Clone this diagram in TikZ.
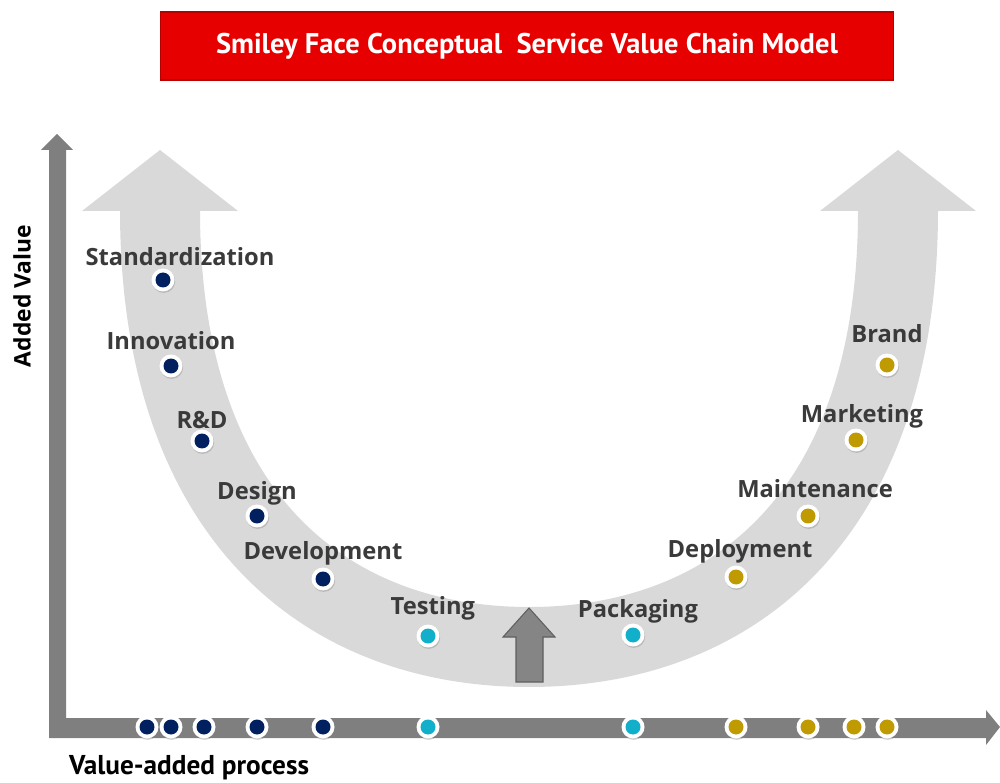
\documentclass[tikz,border=0pt]{standalone}
\usepackage{fontspec}
\setmainfont{Open Sans}
\newfontfamily\narrowfont{PT Sans}
\usetikzlibrary{positioning,shadows}

\definecolor{titlered}{HTML}{E60000}
\definecolor{titleedge}{HTML}{B80000}
\definecolor{bandgray}{HTML}{D9D9D9}
\definecolor{axisgray}{HTML}{7F7F7F}
\definecolor{labelgray}{HTML}{3A3A3A}
\definecolor{dotnavy}{HTML}{002060}
\definecolor{dotcyan}{HTML}{12AFCB}
\definecolor{dotgold}{HTML}{BF9A00}

\tikzset{
  stagedot/.style={circle, fill=white, inner sep=0pt, minimum size=0.46cm,
    drop shadow={shadow xshift=0.4pt, shadow yshift=-0.8pt, opacity=0.35},
    path picture={\fill[#1] (path picture bounding box.center) circle (0.15cm);}},
  stagelabel/.style={font=\bfseries\fontsize{13.5}{16}\selectfont, text=labelgray,
    inner sep=0pt, text depth=0pt},
  bandline/.style={draw=bandgray, line width=1.6cm},
}

\begin{document}
\begin{tikzpicture}[x=0.02cm, y=-0.02cm]
  \useasboundingbox (0,0) rectangle (1000,783);
  % Smile band
  \draw[bandline] (160,210) .. controls (160,520) and (329,647) .. (529,647)
    .. controls (729,647) and (898,520) .. (898,210);
  \fill[bandgray] (82,211) -- (160,150) -- (238,211) -- cycle;
  \fill[bandgray] (820,211) -- (898,150) -- (976,211) -- cycle;
  % Small arrow
  \filldraw[fill=axisgray!95!white, draw=axisgray!75!black, line width=0.6pt]
    (516,682) -- (516,637) -- (503,637) -- (529,608) -- (555,637) -- (543,637) -- (543,682) -- cycle;
  % Axes
  \fill[axisgray] (49,738) -- (49,150) -- (41,150) -- (57,134) -- (73,150) -- (66,150)
    -- (66,718) -- (986,718) -- (986,710) -- (1000,727) -- (986,745) -- (986,738) -- cycle;
  % Nodes on the curve
  \node (std)   [stagedot=dotnavy] at (163,280) {};
  \node (inn)   [stagedot=dotnavy] at (171,366) {};
  \node (rnd)   [stagedot=dotnavy] at (202,441) {};
  \node (des)   [stagedot=dotnavy] at (257,516) {};
  \node (dev)   [stagedot=dotnavy] at (323,579) {};
  \node (test)  [stagedot=dotcyan] at (428,636) {};
  \node (pack)  [stagedot=dotcyan] at (633,635) {};
  \node (depl)  [stagedot=dotgold] at (736,577) {};
  \node (maint) [stagedot=dotgold] at (808,516) {};
  \node (mark)  [stagedot=dotgold] at (856,440) {};
  \node (brand) [stagedot=dotgold] at (887,365) {};
  % Nodes on the axis
  \node (stdx)   [stagedot=dotnavy] at (147,727) {};
  \node (innx)   [stagedot=dotnavy] at (171,727) {};
  \node (rndx)   [stagedot=dotnavy] at (204,727) {};
  \node (desx)   [stagedot=dotnavy] at (257,727) {};
  \node (devx)   [stagedot=dotnavy] at (323,727) {};
  \node (testx)  [stagedot=dotcyan] at (428,727) {};
  \node (packx)  [stagedot=dotcyan] at (633,727) {};
  \node (deplx)  [stagedot=dotgold] at (736,727) {};
  \node (maintx) [stagedot=dotgold] at (808,727) {};
  \node (markx)  [stagedot=dotgold] at (854,727) {};
  \node (brandx) [stagedot=dotgold] at (887,727) {};
  % Labels
  \node (stdlab)   [stagelabel, above=1.4pt of std, xshift=9.7pt] {Standardization};
  \node (innlab)   [stagelabel, above=2.6pt of inn] {Innovation};
  \node (rndlab)   [stagelabel, above=0pt of rnd] {R\&D};
  \node (deslab)   [stagelabel, above=2.6pt of des] {Design};
  \node (devlab)   [stagelabel, above=4.3pt of dev] {Development};
  \node (testlab)  [stagelabel, above=5.4pt of test, xshift=2.8pt] {Testing};
  \node (packlab)  [stagelabel, above=3.1pt of pack, xshift=2.8pt] {Packaging};
  \node (depllab)  [stagelabel, above=4.3pt of depl, xshift=2.3pt] {Deployment};
  \node (maintlab) [stagelabel, above=3.7pt of maint, xshift=4pt] {Maintenance};
  \node (marklab)  [stagelabel, above=3.1pt of mark, xshift=3.4pt] {Marketing};
  \node (brandlab) [stagelabel, above=6pt of brand] {Brand};
  % Axis titles
  \node (ylab) [font=\bfseries\fontsize{13}{15}\selectfont, rotate=90] at (22,296) {Added Value};
  \node (xlab) [font=\narrowfont\bfseries\fontsize{15.5}{18}\selectfont] at (189,768) {Value-added process};
  % Header
  \node (title) [rectangle, fill=titlered, draw=titleedge, line width=0.6pt,
    minimum width=14.66cm, minimum height=1.36cm, text=white,
    font=\narrowfont\bfseries\fontsize{16.2}{19}\selectfont] at (527,46)
    {Smiley Face Conceptual\ \ Service Value Chain Model};
\end{tikzpicture}
\end{document}
